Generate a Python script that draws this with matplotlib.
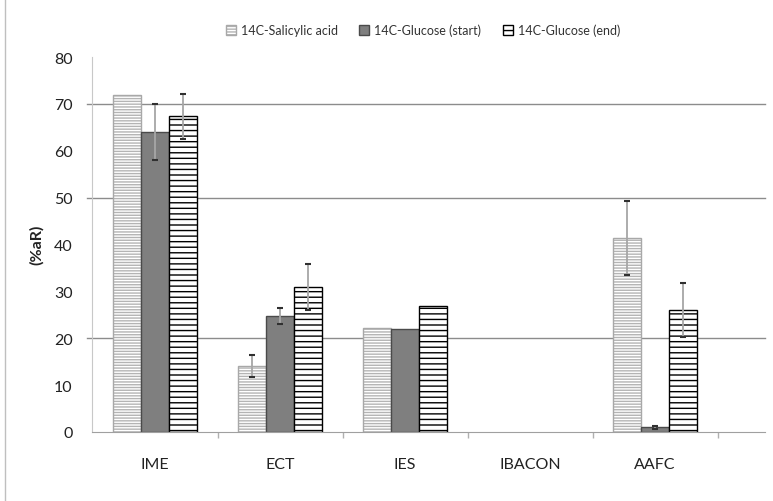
import matplotlib
matplotlib.use("Agg")
import matplotlib.pyplot as plt
import numpy as np

plt.rcParams['font.family'] = ['Lato', 'DejaVu Sans']
plt.rcParams['hatch.linewidth'] = 1.0

categories = ["IME", "ECT", "IES", "IBACON", "AAFC"]
series_names = ["14C-Salicylic acid", "14C-Glucose (start)", "14C-Glucose (end)"]
salicylic = [72.0, 14.1, 22.2, 0.0, 41.4]
salicylic_err = [0.0, 2.3, 0.0, 0.0, 7.8]
glucose_start = [64.0, 24.8, 22.0, 0.0, 1.0]
glucose_start_err = [6.0, 1.7, 0.0, 0.0, 0.3]
glucose_end = [67.4, 31.0, 26.9, 0.0, 26.0]
glucose_end_err = [4.8, 4.9, 0.0, 0.0, 5.8]
y_ticks = [0, 10, 20, 30, 40, 50, 60, 70, 80]
grid_values = [20, 50, 70]

fig = plt.figure(figsize=(7.73, 5.02), dpi=100)
ax = fig.add_axes([92 / 773, 1 - 433 / 502, 673 / 773, 375 / 502])

x = np.arange(len(categories))
w = 0.224

styles = [
    dict(facecolor="white", edgecolor="#a8a8a8", hatch="------", lw=1.0),
    dict(facecolor="#7f7f7f", edgecolor="#4a4a4a", hatch=None, lw=1.0),
    dict(facecolor="white", edgecolor="black", hatch="---", lw=1.0),
]
values = [salicylic, glucose_start, glucose_end]
errors = [salicylic_err, glucose_start_err, glucose_end_err]

for i, (vals, errs, st) in enumerate(zip(values, errors, styles)):
    pos = x + (i - 1) * w
    vals = np.array(vals)
    # empty bars get no outline so nothing is drawn at zero
    lws = [st["lw"] if v > 0 else 0 for v in vals]
    bars = ax.bar(pos, vals, width=w, facecolor=st["facecolor"],
                  edgecolor=st["edgecolor"], hatch=st["hatch"],
                  linewidth=lws, label=series_names[i], zorder=3)
    if i == 0:
        for b in bars:
            b._hatch_color = matplotlib.colors.to_rgba("#b4b4b4")
    mask = np.array(errs) > 0
    eb = ax.errorbar(pos[mask], vals[mask], yerr=np.array(errs)[mask],
                     fmt="none", ecolor="#a6a6a6", elinewidth=1.3,
                     capsize=2.5, capthick=1.5, zorder=4)
    for cap in eb[1]:
        cap.set_markeredgecolor("#303030")
        cap.set_color("#303030")

ax.set_xlim(-0.504, 4.88)
ax.set_ylim(0, 80)

for gv in grid_values:
    ax.axhline(gv, xmin=-0.008, xmax=1, color="#8c8c8c", lw=1.0,
               clip_on=False, zorder=1)

ax.set_yticks(y_ticks)
ax.set_yticklabels([str(v) for v in y_ticks], fontsize=11.5, color="#222222")
ax.tick_params(axis="y", length=0, pad=14)

ax.set_xticks(x)
ax.set_xticklabels(categories, fontsize=11.5, color="#222222")
ax.tick_params(axis="x", which="major", length=0, pad=18)
ax.set_xticks(np.arange(0.5, 4.6, 1.0), minor=True)
ax.tick_params(axis="x", which="minor", length=4, color="#b0b0b0", width=1)

for s in ["top", "right"]:
    ax.spines[s].set_visible(False)
ax.spines["left"].set_color("#c8c8c8")
ax.spines["bottom"].set_color("#a0a0a0")
ax.spines["bottom"].set_zorder(5)

fig.text(37 / 773, 1 - 245 / 502, "(%aR)", rotation=90, fontsize=11.5,
         fontweight="bold", ha="center", va="center", color="#222222")

handles, labels = ax.get_legend_handles_labels()
fig.legend(handles, labels, loc="center", bbox_to_anchor=(423 / 773, 1 - 31 / 502),
           ncol=3, frameon=False, fontsize=9, handlelength=0.8, handleheight=0.8,
           handletextpad=0.4, columnspacing=1.7, labelcolor="#333333")

# chart border on the left side
fig.add_artist(plt.Line2D([5 / 773, 5 / 773], [0, 1], color="#bfbfbf", lw=1.0,
                          transform=fig.transFigure))

fig.savefig("out.png", dpi=100)
